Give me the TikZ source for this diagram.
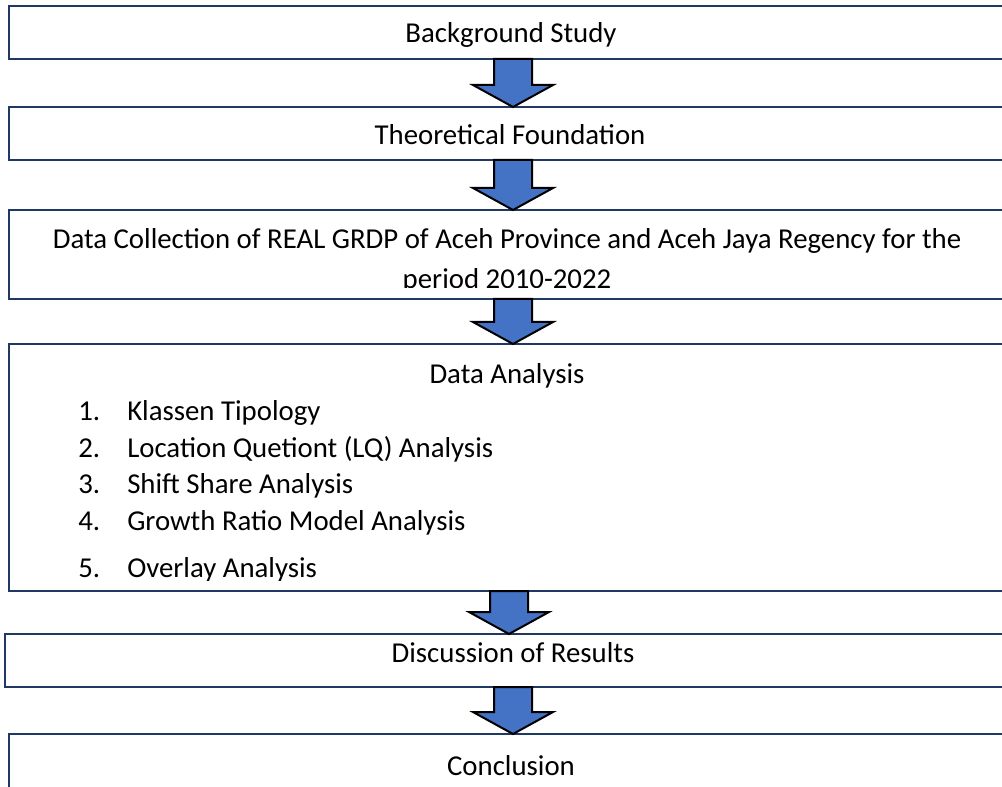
\documentclass[tikz,border=0pt]{standalone}
\usepackage{fontspec}
\setmainfont{Carlito}
\usetikzlibrary{fit,calc}
\definecolor{boxline}{HTML}{1F3864}
\definecolor{arrowblue}{HTML}{4472C4}
\newcommand\blockarrow[3]{%
  \draw[barrow] let \p1=(#1.south), \p2=(#2.north) in
    ({(#3-19)*0.75pt},\y1) -- ({(#3-19)*0.75pt},\y2+16.5pt) -- ({(#3-40)*0.75pt},\y2+16.5pt)
    -- ({#3*0.75pt},\y2) -- ({(#3+40)*0.75pt},\y2+16.5pt) -- ({(#3+19)*0.75pt},\y2+16.5pt)
    -- ({(#3+19)*0.75pt},\y1) -- cycle;}
\begin{document}
\begin{tikzpicture}[x=0.75pt,y=-0.75pt,
  box/.style={draw=boxline, line width=1.5pt, fill=white, inner sep=0pt, outer sep=0pt, rectangle},
  barrow/.style={draw=black, fill=arrowblue, line width=1.5pt, line join=miter},
  lbl/.style={font=\fontsize{21.6}{26}\selectfont, inner sep=0pt, anchor=base, text=black}]
\useasboundingbox (0,0) rectangle (1002,787);
\clip (0,0) rectangle (1002,787);
\fill[white] (0,0) rectangle (1002,787);

% boxes
\node[box, fit={(9,6)(1013,59)}] (b1) {};
\node[box, fit={(9,107)(1013,160)}] (b2) {};
\node[box, fit={(9,210)(1013,299)}] (b3) {};
\node[box, fit={(9,344)(1013,591)}] (b4) {};
\node[box, fit={(5,634)(1013,687)}] (b5) {};
\node[box, fit={(9,734)(1013,810)}] (b6) {};

% texts
\node[lbl] (t1) at (511,43) {Background Study};
\node[lbl] (t2) at (510,145) {Theoretical Foundation};
\begin{scope}
  \clip (10,211) rectangle (1012,288);
  \node[lbl] (t3a) at (507,249) {Data Collection of REAL GRDP of Aceh Province and Aceh Jaya Regency for the};
  \node[lbl] (t3b) at (507,289) {period 2010-2022};
\end{scope}
\node[lbl] (t4) at (507,383) {Data Analysis};
\begin{scope}
  \clip (10,345) rectangle (1012,580);
  \foreach \i/\t/\yy in {1/Klassen Tipology/421, 2/Location Quetiont (LQ) Analysis/457, 3/Shift Share Analysis/493, 4/Growth Ratio Model Analysis/530, 5/Overlay Analysis/577}{
    \node[lbl, anchor=base west] (n\i) at (78,\yy) {\i.};
    \node[lbl, anchor=base west] (l\i) at (127,\yy) {\t};
  }
\end{scope}
\node[lbl] (t5) at (513,662) {Discussion of Results};
\node[lbl] (t6) at (511,775) {Conclusion};

% block arrows
\blockarrow{b1}{b2}{513}
\blockarrow{b2}{b3}{513}
\blockarrow{b3}{b4}{513}
\blockarrow{b4}{b5}{509}
\blockarrow{b5}{b6}{513}
\end{tikzpicture}
\end{document}
